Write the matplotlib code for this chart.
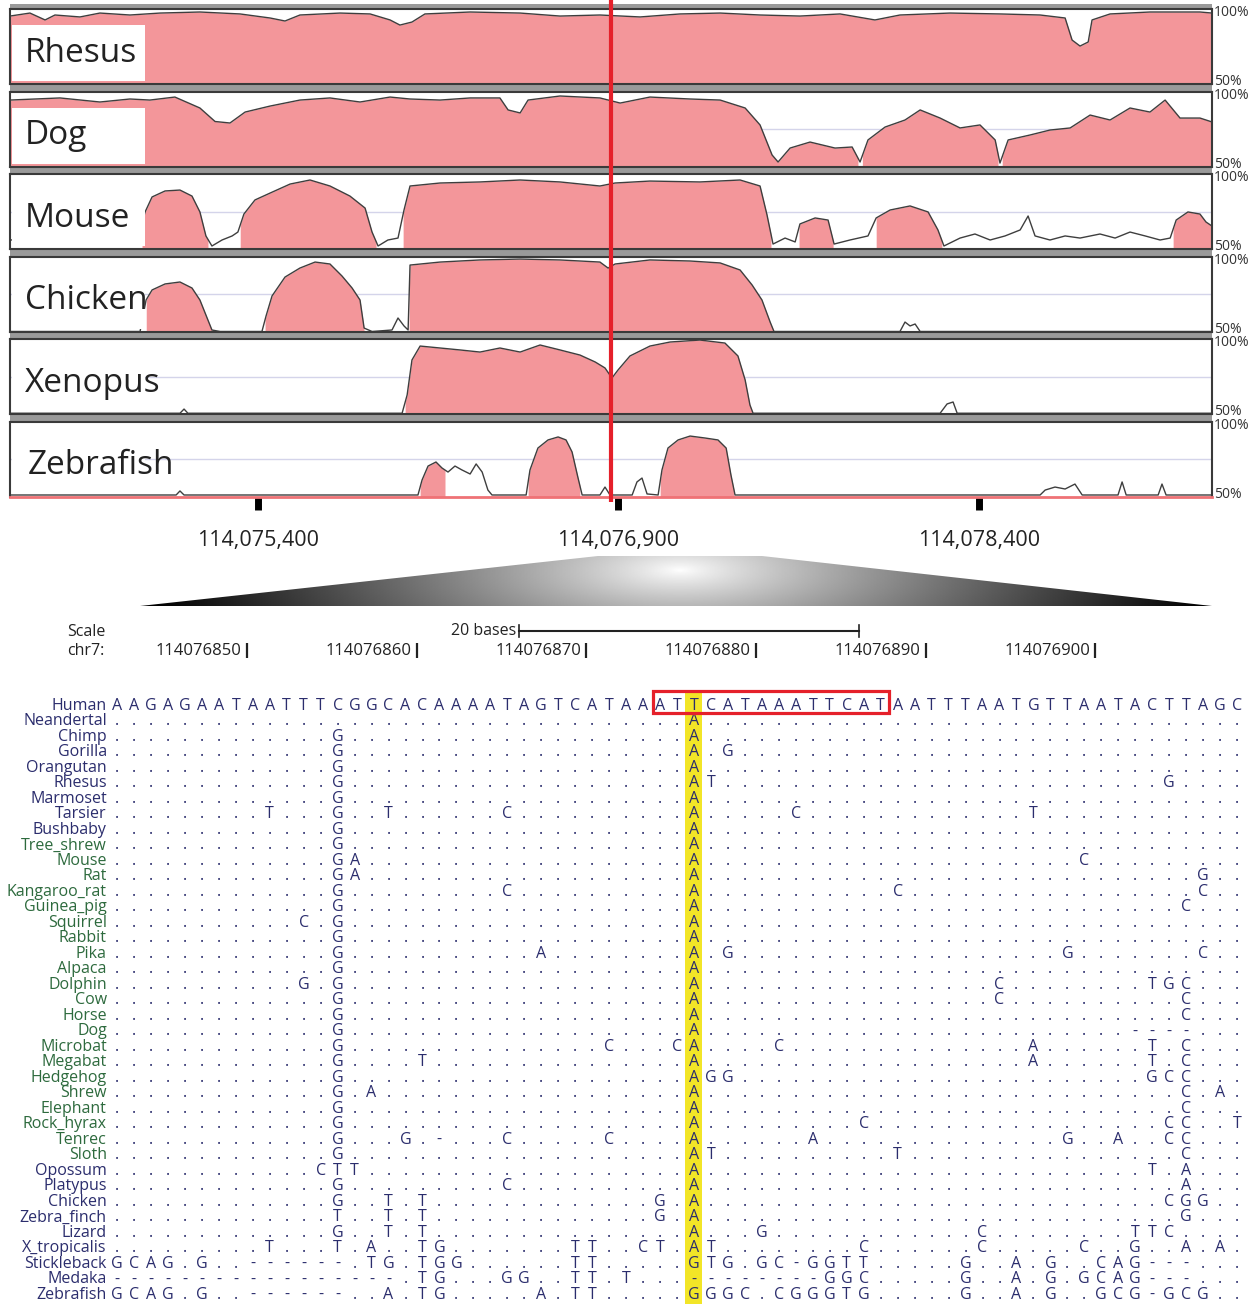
import matplotlib
matplotlib.use('Agg')
import matplotlib.pyplot as plt
from matplotlib.patches import Rectangle, Polygon
from matplotlib.ticker import FuncFormatter
import numpy as np

plt.rcParams['font.family'] = ['Open Sans', 'DejaVu Sans']

W, H = 1260, 1304

# ---------------- conservation tracks (offsets in bp from region_start, % identity) ----
region_start = 114074370
region_end = 114079370
axis_ticks = [114075400, 114076900, 114078400]
highlight_pos = 114076868

rhesus_off = [0, 83, 146, 187, 291, 374, 499, 624, 790, 957, 1082, 1144, 1206, 1373, 1498,
              1581, 1622, 1672, 1726, 1914, 2122, 2288, 2454, 2621, 2787, 2954, 3120, 3286,
              3453, 3598, 3702, 3910, 4118, 4285, 4389, 4418, 4451, 4485, 4501, 4576, 4742,
              4950, 5000]
rhesus_pct = [95.3, 97.3, 92.7, 96, 94.7, 97.3, 96, 97.3, 98, 96.7, 94, 92, 96, 97.3, 96.7,
              92.7, 89.3, 91.3, 96.7, 98, 97.3, 95.3, 96, 94.7, 96.7, 97.3, 96, 95.3,
              96.7, 92.7, 96, 97.3, 96.7, 96, 94, 79.3, 75.3, 78, 92.7, 96.7, 98,
              98, 97.3]
rhesus_fill = [(0, 5000)]

dog_off = [0, 208, 374, 499, 582, 686, 790, 853, 915, 978, 1082, 1206, 1331, 1456, 1581,
           1664, 1789, 1914, 2038, 2072, 2122, 2155, 2288, 2454, 2538, 2662, 2829, 2954,
           3058, 3120, 3170, 3195, 3245, 3328, 3432, 3503, 3536, 3569, 3640, 3723, 3786,
           3869, 3952, 4035, 4098, 4118, 4152, 4243, 4326, 4410, 4493, 4576, 4659, 4742,
           4805, 4867, 4950, 5000]
dog_pct = [94.3, 95.7, 93, 95, 94.3, 96.3, 89, 80, 79, 86.3, 90.3, 94.3, 95.7, 93, 96.3,
           95, 94.3, 95.7, 95.7, 87.7, 85.7, 94.3, 97, 95.7, 92.3, 96.3, 95, 94.3,
           89, 77.7, 57.7, 53, 62.3, 66.3, 62.3, 63, 53, 67.7, 76.3, 81, 87.7,
           82.3, 75.7, 77.7, 67.7, 52.3, 67.7, 71, 74.3, 75.7, 84.3, 81, 89, 86.3,
           94.3, 82.3, 82.3, 79.7]
dog_fill = [(0, 3528), (3545, 4110), (4127, 5000)]

mouse_off = [0, 208, 374, 541, 562, 591, 645, 707, 757, 790, 815, 840, 882, 924, 948,
             973, 1019, 1082, 1165, 1248, 1331, 1414, 1477, 1506, 1531, 1572, 1614, 1639,
             1664, 1789, 1955, 2122, 2288, 2454, 2517, 2662, 2870, 3037, 3120, 3149, 3174,
             3224, 3266, 3286, 3349, 3403, 3428, 3494, 3569, 3603, 3661, 3744, 3819, 3860,
             3885, 3952, 4014, 4077, 4139, 4202, 4235, 4264, 4326, 4389, 4451, 4534, 4597,
             4659, 4722, 4784, 4826, 4851, 4900, 4950, 4975, 5000]
mouse_pct = [56, 57.3, 54.7, 62.7, 74.7, 84.7, 88.7, 89.3, 85.3, 74.7, 58.7, 52, 56, 58.7, 61.3,
             73.3, 82.7, 87.3, 93.3, 96, 92, 85.3, 77.3, 61.3, 52, 56, 57.3, 76,
             92, 94, 94.7, 96, 94.7, 92, 94, 95.3, 94.7, 96, 92, 72.7, 53.3,
             57.3, 54.7, 66.7, 70.7, 69.3, 53.3, 56, 58.7, 70.7, 76, 78.7, 74.7, 62.7,
             52, 57.3, 60, 56, 58.7, 62.7, 72, 58.7, 56, 58.7, 57.3, 60, 57.3,
             61.3, 58.7, 56, 57.3, 69.3, 74.7, 73.3, 68, 65.3]
mouse_fill = [(549, 824), (957, 1523), (1635, 3166), (3282, 3424), (3603, 3877), (4838, 5000)]

chicken_off = [0, 541, 566, 591, 645, 707, 757, 790, 820, 840, 874, 1048, 1065, 1090, 1144,
               1206, 1269, 1331, 1381, 1423, 1456, 1473, 1506, 1589, 1614, 1639, 1656, 1664,
               1789, 1955, 2122, 2288, 2454, 2488, 2517, 2662, 2829, 2954, 3037, 3087, 3128,
               3162, 3178, 3702, 3723, 3744, 3765, 3786, 5000]
chicken_pct = [50, 50, 71, 77.7, 81.7, 83, 79, 71, 59, 51, 50, 50, 60.3, 73.7, 86.3,
               92.3, 96.3, 95, 87, 79, 71, 52.3, 50, 51, 59, 53.7, 51, 94.3,
               96.3, 97.7, 98.3, 97.7, 96.3, 92.3, 95, 97.7, 97, 95.7, 91, 81, 71,
               56.3, 50, 50, 56.3, 53.7, 55, 50, 50]
chicken_fill = [(566, 840), (1061, 1473), (1660, 3178)]

xenopus_off = [0, 707, 724, 740, 1631, 1652, 1672, 1706, 1789, 1872, 1955, 2038, 2122, 2205,
               2288, 2371, 2434, 2475, 2504, 2529, 2579, 2662, 2746, 2870, 2974, 3028, 3058,
               3078, 3091, 3869, 3898, 3923, 3940, 5000]
xenopus_pct = [50.5, 50.5, 53.3, 50.5, 50.5, 62.7, 86, 95.3, 94, 92.7, 91.3, 94, 91.3, 96,
               92.7, 89.3, 84.7, 80.7, 74, 79.3, 88.7, 95.3, 98, 99.3, 97.3, 88.7, 72.7,
               56, 50.5, 50.5, 56.7, 58, 50.5, 50.5]
xenopus_fill = [(1643, 3087)]

zebrafish_off = [0, 691, 707, 724, 1697, 1714, 1739, 1772, 1797, 1822, 1851, 1880, 1914, 1939,
                 1964, 1988, 2005, 2147, 2163, 2196, 2238, 2280, 2313, 2338, 2363, 2380, 2454,
                 2475, 2496, 2588, 2608, 2629, 2650, 2696, 2712, 2737, 2779, 2829, 2891, 2945,
                 2979, 2999, 3016, 4285, 4306, 4347, 4389, 4430, 4460, 4609, 4626, 4643, 4776,
                 4792, 4809, 5000]
zebrafish_pct = [51, 51, 53.7, 51, 51, 61, 70.3, 73, 69, 66.3, 70.3, 67.7, 65, 71.7,
                 66.3, 54.3, 51, 51, 67.7, 82.3, 87.7, 89.7, 87.7, 79.7, 62.3, 51, 51,
                 56.3, 51, 51, 59.7, 62.3, 51.7, 51, 67.7, 82.3, 87.7, 90.3, 89, 87.7,
                 82.3, 64.3, 51, 51, 54.3, 56.3, 55, 58.3, 51, 51, 59.7, 51, 51,
                 58.3, 51, 51]
zebrafish_fill = [(1706, 1810), (2155, 2371), (2704, 3012)]

tracks = [
    ('Rhesus', rhesus_off, rhesus_pct, rhesus_fill),
    ('Dog', dog_off, dog_pct, dog_fill),
    ('Mouse', mouse_off, mouse_pct, mouse_fill),
    ('Chicken', chicken_off, chicken_pct, chicken_fill),
    ('Xenopus', xenopus_off, xenopus_pct, xenopus_fill),
    ('Zebrafish', zebrafish_off, zebrafish_pct, zebrafish_fill),
]

# ---------------- base-level alignment --------------------------------------------------
aln_start = 114076843          # genomic position of the first alignment column
snp_pos = 114076877            # highlighted column
box_span = (114076875, 114076888)
scale_ticks = [114076850, 114076860, 114076870, 114076880, 114076890, 114076900]
scale_bar_start = 114076866
scale_bar_len = 20

human_seq = "AAGAGAATAATTTCGGCACAAAATAGTCATAAATTCATAAATTCATAATTTAATGTTAATACTTAGC"

species = ['Neandertal', 'Chimp', 'Gorilla', 'Orangutan', 'Rhesus', 'Marmoset', 'Tarsier',
           'Bushbaby', 'Tree_shrew', 'Mouse', 'Rat', 'Kangaroo_rat', 'Guinea_pig', 'Squirrel',
           'Rabbit', 'Pika', 'Alpaca', 'Dolphin', 'Cow', 'Horse', 'Dog', 'Microbat', 'Megabat',
           'Hedgehog', 'Shrew', 'Elephant', 'Rock_hyrax', 'Tenrec', 'Sloth', 'Opossum',
           'Platypus', 'Chicken', 'Zebra_finch', 'Lizard', 'X_tropicalis', 'Stickleback',
           'Medaka', 'Zebrafish']
green_names = ['Tree_shrew', 'Mouse', 'Rat', 'Kangaroo_rat', 'Guinea_pig', 'Squirrel', 'Rabbit',
               'Pika', 'Alpaca', 'Dolphin', 'Cow', 'Horse', 'Dog', 'Microbat', 'Megabat',
               'Hedgehog', 'Shrew', 'Elephant', 'Rock_hyrax', 'Tenrec', 'Sloth']

# differences from Human: "col+base", "a:b+base" for a run; everything else is '.'
diffs = {
    'Neandertal': "34A",
    'Chimp': "13G 34A",
    'Gorilla': "13G 34A 36G",
    'Orangutan': "13G 34A",
    'Rhesus': "13G 34A 35T 62G",
    'Marmoset': "13G 34A",
    'Tarsier': "9T 13G 16T 23C 34A 40C 54T",
    'Bushbaby': "13G 34A",
    'Tree_shrew': "13G 34A",
    'Mouse': "13G 14A 34A 57C",
    'Rat': "13G 14A 34A 64G",
    'Kangaroo_rat': "13G 23C 34A 46C 64C",
    'Guinea_pig': "13G 34A 63C",
    'Squirrel': "11C 13G 34A",
    'Rabbit': "13G 34A",
    'Pika': "13G 25A 34A 36G 56G 64C",
    'Alpaca': "13G 34A",
    'Dolphin': "11G 13G 34A 52C 61T 62G 63C",
    'Cow': "13G 34A 52C 63C",
    'Horse': "13G 34A 63C",
    'Dog': "13G 34A 60:63-",
    'Microbat': "13G 29C 33C 34A 39C 54A 61T 63C",
    'Megabat': "13G 18T 34A 54A 61T 63C",
    'Hedgehog': "13G 34A 35G 36G 61G 62C 63C",
    'Shrew': "13G 15A 34A 63C 65A",
    'Elephant': "13G 34A 63C",
    'Rock_hyrax': "13G 34A 44C 62C 63C 66T",
    'Tenrec': "13G 17G 19- 23C 29C 34A 41A 56G 59A 62C 63C",
    'Sloth': "13G 34A 35T 46T 63C",
    'Opossum': "12C 13T 14T 34A 61T 63A",
    'Platypus': "13G 23C 34A 63A",
    'Chicken': "13G 16T 18T 32G 34A 62C 63G 64G",
    'Zebra_finch': "13T 16T 18T 32G 34A 63G",
    'Lizard': "13G 16T 18T 34A 38G 51C 60T 61T 62C",
    'X_tropicalis': "9T 13T 15A 18T 19G 27T 28T 31C 32T 34A 35T 44C 51C 57C 60G 63A 65A",
    'Stickleback': "0G 1C 2A 3G 5G 8:13- 15T 16G 18T 19G 20G 27T 28T 34G 35T 36G 38G 39C 40- "
                   "41G 42G 43T 44T 50G 53A 55G 58C 59A 60G 61:63-",
    'Medaka': "0:16- 18T 19G 23G 24G 27T 28T 30T 34:41- 42G 43G 44C 50G 53A 55G 57G 58C 59A "
              "60G 61:63-",
    'Zebrafish': "0G 1C 2A 3G 5G 8:13- 16A 18T 19G 25A 27T 28T 34G 35G 36G 37C 39C 40G 41G 42G "
                 "43T 44G 50G 53A 55G 58G 59C 60G 61- 62G 63C 64G",
}


def expand(spec):
    row = ['.'] * len(human_seq)
    for tok in spec.split():
        ch, idx = tok[-1], tok[:-1]
        if ':' in idx:
            a, b = idx.split(':')
            cols = range(int(a), int(b) + 1)
        else:
            cols = [int(idx)]
        for c in cols:
            row[c] = ch
    return row


navy = '#2b2d6d'
green = '#2d6a3d'
pink = '#f3969a'

fig = plt.figure(figsize=(12.6, 13.04), dpi=100)

# background helper axes in pixel units
bg = fig.add_axes([0, 0, 1, 1], zorder=0)
bg.patch.set_visible(False)
bg.add_patch(Rectangle((10, 4), 1202, 493, color='#9a9a9a', lw=0))

# gradient zoom wedge
gx = np.linspace(140, 1212, 700)
gy = np.linspace(555, 606, 60)
GX, GY = np.meshgrid(gx, gy)
shade = 1 - np.clip(np.sqrt(((GX - 680) / 540) ** 2 + ((GY - 570) / 160) ** 2), 0, 1) ** 0.85
im = bg.imshow(shade, extent=(140, 1212, 606, 555), cmap='gray', vmin=0, vmax=1,
               aspect='auto', interpolation='bilinear')
wedge = Polygon([(140, 606), (598, 556), (762, 556), (1212, 606)], closed=True,
                transform=bg.transData, facecolor='none', edgecolor='none')
bg.add_patch(wedge)
im.set_clip_path(wedge)
bg.set_xlim(0, W)
bg.set_ylim(H, 0)
bg.axis('off')

track_top0, track_pitch, track_h = 9, 82.5, 75
xf = np.linspace(region_start, region_end, 6000)
for k, (name, off, pct, fills) in enumerate(tracks):
    top = track_top0 + k * track_pitch
    ax = fig.add_axes([10 / W, 1 - (top + track_h) / H, 1202 / W, track_h / H], zorder=1)
    x = region_start + np.array(off)
    yf = np.interp(xf, x, pct)
    ax.axhline(75, color='#d4d4ea', lw=1, zorder=0.5)
    for a, b in fills:
        m = (xf >= region_start + a) & (xf <= region_start + b)
        ax.fill_between(xf[m], 50, yf[m], color=pink, lw=0, zorder=1)
    ax.plot(x, pct, color='#3e3e3e', lw=1, zorder=2)
    ax.set_xlim(region_start, region_end)
    ax.set_ylim(50, 100)
    for s in ax.spines.values():
        s.set_color('#3a3a3a')
        s.set_linewidth(1.5)
    ax.set_yticks([])
    ax.add_patch(Rectangle((0.002, 0.04), 0.11, 0.74, transform=ax.transAxes,
                           color='white', lw=0, zorder=3))
    ax.text(0.0125 if name != 'Zebrafish' else 0.015, 0.41, name, transform=ax.transAxes,
            fontsize=24, va='center', ha='left', color='#222222', zorder=4)
    ax.text(1.0015, 0.95, '100%', transform=ax.transAxes, fontsize=10, va='center',
            ha='left', color='#333333')
    ax.text(1.0015, 0.03, '50%', transform=ax.transAxes, fontsize=10, va='center',
            ha='left', color='#333333')
    if k == len(tracks) - 1:
        ax.spines['bottom'].set_color('#ef7276')
        ax.spines['bottom'].set_linewidth(2)
        ax.set_xticks(axis_ticks)
        ax.xaxis.set_major_formatter(FuncFormatter(lambda v, p: f'{int(v):,}'))
        ax.tick_params(axis='x', direction='out', length=9, width=5, color='black',
                       pad=15, labelsize=15.5, labelcolor='#222222')
    else:
        ax.set_xticks([])

# red marker line across all tracks
ov = fig.add_axes([10 / W, 1 - 502 / H, 1202 / W, 502 / H], zorder=3)
ov.patch.set_visible(False)
ov.set_xlim(region_start, region_end)
ov.set_ylim(0, 1)
ov.axis('off')
ov.axvline(highlight_pos, color='#e5202a', lw=3)

# alignment axes: x in columns, y in rows
col_w, row_h, col0_px, row0_px, al_top_px = 16.97, 15.5, 117, 704, 610
al = fig.add_axes([0, 0, 1, (H - al_top_px) / H], zorder=2)
al.patch.set_visible(False)
al.set_xlim(-col0_px / col_w, (W - col0_px) / col_w)
al.set_ylim((H - row0_px) / row_h, (al_top_px - row0_px) / row_h)
al.axis('off')

# scale / chr7 ruler
al.text(-2.95, -4.65, 'Scale', fontsize=11.5, va='center', ha='left', color='#222222')
al.text(-2.95, -3.42, 'chr7:', fontsize=11.5, va='center', ha='left', color='#222222')
for p in scale_ticks:
    c = p - aln_start + 0.65
    al.plot([c, c], [-3.94, -2.97], color='#222222', lw=1.6, solid_capstyle='butt')
    al.text(c - 0.3, -3.42, str(p), fontsize=12, va='center', ha='right', color='#222222')
b0 = scale_bar_start - aln_start + 0.7
al.plot([b0, b0 + scale_bar_len], [-4.71, -4.71], color='#222222', lw=1.5)
for c in (b0, b0 + scale_bar_len):
    al.plot([c, c], [-5.1, -4.3], color='#222222', lw=1.2)
al.text(b0 - 0.15, -4.71, '20 bases', fontsize=11.5, va='center', ha='right', color='#222222')

snp_col = snp_pos - aln_start
al.add_patch(Rectangle((snp_col - 0.5, -0.78), 1, len(species) + 1.6, color='#f2e527',
                       lw=0, zorder=0))
bx0, bx1 = box_span[0] - aln_start, box_span[1] - aln_start
al.add_patch(Rectangle((bx0 - 0.4, -0.82), bx1 - bx0 + 0.9, 1.43, fill=False,
                       edgecolor='#e5202a', lw=2.3, zorder=3))

rows = [('Human', list(human_seq))] + [(s, expand(diffs[s])) for s in species]
for r, (name, seq) in enumerate(rows):
    y = r + 0.38
    al.text(-0.6, y, name, fontsize=11.5, ha='right', va='baseline',
            color=green if name in green_names else navy)
    for c, ch in enumerate(seq):
        al.text(c, y, ch, fontsize=11.5, ha='center', va='baseline', color=navy, zorder=2)

fig.savefig('out.png', dpi=100)
